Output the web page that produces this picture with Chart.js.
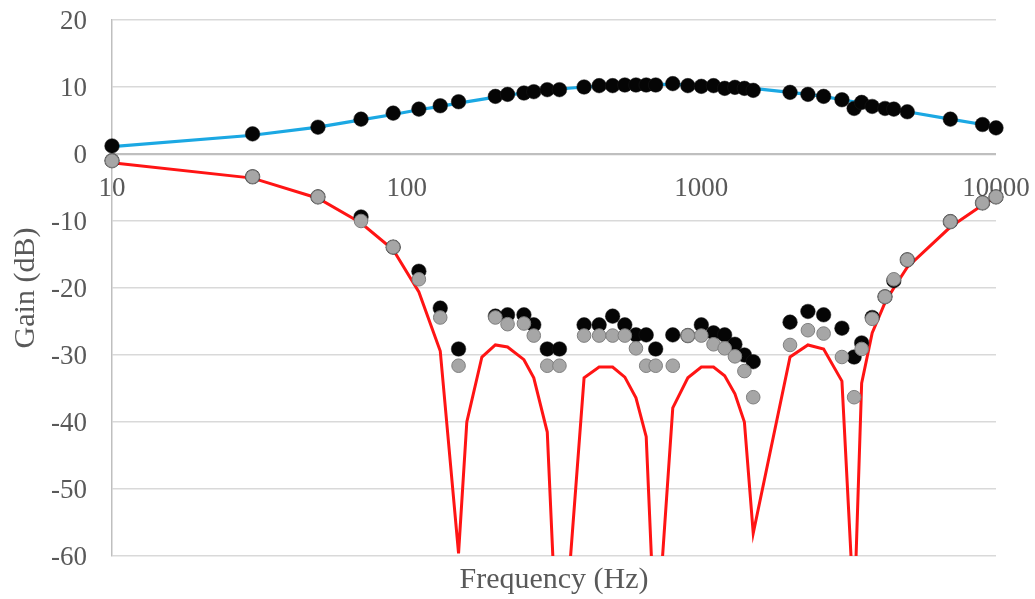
<!DOCTYPE html>
<html>
<head>
<meta charset="utf-8">
<script src="https://cdn.jsdelivr.net/npm/chart.js@4/dist/chart.umd.min.js"></script>
<style>
  html, body { margin: 0; padding: 0; background: #ffffff; }
  #c { display: block; }
</style>
</head>
<body>
<canvas id="c" width="1035" height="599"></canvas>
<script>
// Measured frequencies (Hz)
const measFreqs = [10, 30, 50, 70, 90, 110, 130, 150, 200, 220, 250, 270, 300, 330,
  400, 450, 500, 550, 600, 650, 700, 800, 900, 1000, 1100, 1200, 1300, 1400, 1500,
  2000, 2300, 2600, 3000, 3300, 3500, 3800, 4200, 4500, 5000, 7000, 9000, 10000];

// Passband: measured gain (dB)
const passMeasured = [1.2, 3.0, 4.0, 5.2, 6.1, 6.7, 7.2, 7.8, 8.6, 8.9, 9.1, 9.3, 9.6, 9.6,
  10.0, 10.2, 10.2, 10.3, 10.3, 10.3, 10.3, 10.5, 10.2, 10.1, 10.2, 9.8, 9.95, 9.8, 9.5,
  9.2, 8.9, 8.6, 8.1, 6.8, 7.7, 7.1, 6.8, 6.7, 6.3, 5.2, 4.4, 3.9];

// Passband: model gain (dB)
const passModel = [1.1, 2.8, 4.0, 5.1, 5.9, 6.6, 7.1, 7.6, 8.5, 8.8, 9.1, 9.3, 9.5, 9.7,
  10.0, 10.1, 10.2, 10.3, 10.3, 10.4, 10.4, 10.4, 10.3, 10.3, 10.2, 10.1, 10.0, 9.9, 9.8,
  9.2, 8.9, 8.6, 8.1, 7.8, 7.6, 7.2, 6.9, 6.7, 6.3, 5.2, 4.4, 4.0];

// Stopband: measured gain, run A (dB)
const stopMeasuredA = [-1.0, -3.4, -6.4, -9.4, -13.9, -17.5, -23.0, -29.1, -24.2, -24.0, -24.0, -25.5, -29.1, -29.1,
  -25.5, -25.5, -24.2, -25.5, -27.0, -27.0, -29.1, -27.0, -27.1, -25.5, -26.7, -27.0, -28.4, -30.0, -31.0,
  -25.1, -23.5, -24.0, -26.0, -30.3, -28.2, -24.4, -21.3, -18.9, -15.8, -10.1, -7.3, -6.4];

// Stopband: measured gain, run B (dB)
const stopMeasuredB = [-1.0, -3.4, -6.4, -10.0, -13.9, -18.7, -24.4, -31.6, -24.4, -25.4, -25.3, -27.1, -31.6, -31.6,
  -27.1, -27.1, -27.1, -27.1, -29.0, -31.6, -31.6, -31.6, -27.1, -27.1, -28.4, -29.0, -30.2, -32.4, -36.3,
  -28.5, -26.3, -26.8, -30.3, -36.3, -29.1, -24.6, -21.3, -18.7, -15.8, -10.1, -7.3, -6.4];

// Stopband: model frequencies (Hz) and gain (dB)
const modelFreqs = [10, 30, 50, 70, 90, 110, 130, 150, 160, 180, 200, 220, 250, 270, 300, 330,
  400, 450, 500, 550, 600, 650, 700, 800, 900, 1000, 1100, 1200, 1300, 1400, 1500,
  2000, 2300, 2600, 3000, 3300, 3500, 3800, 4200, 4500, 5000, 7000, 9000, 10000];
const stopModel = [-1.3, -3.6, -6.6, -10.3, -14.3, -20.6, -29.4, -59.6, -40.0, -30.3, -28.5, -28.8, -30.7, -33.4, -41.5, -82,
  -33.4, -31.8, -31.8, -33.3, -36.4, -42.2, -75, -37.9, -33.4, -31.8, -31.8, -33.1, -35.8, -40.0, -56.6,
  -30.3, -28.5, -29.1, -33.9, -69, -34.2, -26.7, -22.2, -20.0, -16.9, -10.9, -7.6, -6.4];

// Axis ticks
const xTicks = [10, 100, 1000, 10000];
const yMin = -60, yMax = 20, yStep = 10;

const pts = (xs, ys) => xs.map((x, i) => ({ x: x, y: ys[i] }));

const textColor = '#595959';
const serif = 'Liberation Serif';

new Chart(document.getElementById('c'), {
  type: 'scatter',
  data: {
    datasets: [
      {
        label: 'Stopband measured B',
        data: pts(measFreqs, stopMeasuredB),
        showLine: false,
        pointRadius: 6.8,
        pointBackgroundColor: '#a6a6a6',
        pointBorderColor: '#7f7f7f',
        pointBorderWidth: 1,
        clip: false,
        xAxisID: 'x', yAxisID: 'y',
        order: 0
      },
      {
        label: 'Stopband measured A',
        data: pts(measFreqs, stopMeasuredA),
        showLine: false,
        pointRadius: 7.3,
        pointBackgroundColor: '#050505',
        pointBorderColor: '#1a1a1a',
        pointBorderWidth: 0.5,
        clip: false,
        xAxisID: 'x', yAxisID: 'y',
        order: 1
      },
      {
        label: 'Passband measured',
        data: pts(measFreqs, passMeasured),
        showLine: false,
        pointRadius: 7.3,
        pointBackgroundColor: '#050505',
        pointBorderColor: '#1a1a1a',
        pointBorderWidth: 0.5,
        clip: false,
        xAxisID: 'x', yAxisID: 'y',
        order: 2
      },
      {
        label: 'Passband model',
        data: pts(measFreqs, passModel),
        showLine: true,
        borderColor: '#1ba8e3',
        borderWidth: 3.2,
        pointRadius: 0,
        tension: 0,
        xAxisID: 'x', yAxisID: 'y',
        order: 3
      },
      {
        label: 'Stopband model',
        data: pts(modelFreqs, stopModel),
        showLine: true,
        borderColor: '#ff1414',
        borderWidth: 3,
        pointRadius: 0,
        tension: 0,
        clip: { left: 10, top: 10, right: 10, bottom: 0 },
        xAxisID: 'x', yAxisID: 'y',
        order: 4
      }
    ]
  },
  options: {
    responsive: false,
    animation: false,
    devicePixelRatio: 1,
    layout: { padding: { top: 20, right: 39, bottom: 0, left: 0 } },
    plugins: { legend: { display: false }, tooltip: { enabled: false } },
    scales: {
      x: {
        type: 'logarithmic',
        axis: 'x',
        position: { y: 0 },
        min: 10,
        max: 10000,
        grid: { display: false, drawTicks: false },
        border: { display: false },
        afterBuildTicks: (scale) => { scale.ticks = xTicks.map(v => ({ value: v })); },
        afterFit: (scale) => { scale.paddingLeft = 0; scale.paddingRight = 0; },
        ticks: {
          autoSkip: false,
          maxRotation: 0,
          padding: 19,
          color: textColor,
          font: { family: serif, size: 27 },
          callback: (v) => String(v)
        }
      },
      xt: {
        type: 'linear',
        axis: 'x',
        position: 'bottom',
        grid: { display: false, drawTicks: false },
        border: { display: false },
        ticks: { display: false },
        afterFit: (scale) => {
          scale.height = 43;
          scale.paddingLeft = 0; scale.paddingRight = 0;
        },
        title: {
          display: true,
          text: 'Frequency (Hz)',
          color: textColor,
          font: { family: serif, size: 30 },
          padding: { top: 0, bottom: 1 }
        }
      },
      y: {
        type: 'linear',
        position: 'left',
        min: yMin,
        max: yMax,
        afterFit: (scale) => {
          scale.width = 112;
          scale.paddingTop = 0; scale.paddingBottom = 0;
        },
        ticks: {
          stepSize: yStep,
          padding: 25,
          labelOffset: 2,
          color: textColor,
          font: { family: serif, size: 27 }
        },
        grid: {
          drawTicks: false,
          color: (ctx) => (ctx.tick && ctx.tick.value === 0) ? '#bfbfbf' : '#d9d9d9',
          lineWidth: (ctx) => (ctx.tick && ctx.tick.value === 0) ? 2.2 : 1.5
        },
        border: { display: true, color: '#bfbfbf', width: 1.5 },
        title: {
          display: true,
          text: 'Gain (dB)',
          color: textColor,
          font: { family: serif, size: 30 },
          padding: { top: 8, bottom: 0 }
        }
      }
    }
  }
});
</script>
</body>
</html>
